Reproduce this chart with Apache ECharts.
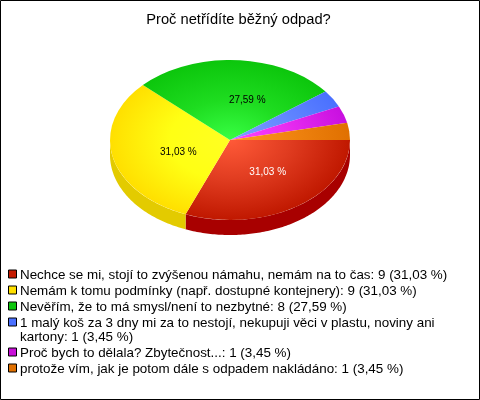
<!DOCTYPE html>
<html><head><meta charset="utf-8">
<style>html,body{margin:0;padding:0;background:#fff}#c{width:480px;height:400px}</style>
<script src="https://cdn.jsdelivr.net/npm/echarts@6/dist/echarts.min.js"></script>
</head><body><div id="c"></div>
<script>
const titleText = 'Proč netřídíte běžný odpad?';
const categories = [
  'Nechce se mi, stojí to zvýšenou námahu, nemám na to čas',
  'Nemám k tomu podmínky (např. dostupné kontejnery)',
  'Nevěřím, že to má smysl/není to nezbytné',
  '1 malý koš za 3 dny mi za to nestojí, nekupuji věci v plastu, noviny ani\nkartony',
  'Proč bych to dělala? Zbytečnost...',
  'protože vím, jak je potom dále s odpadem nakládáno'
];
const values = [9, 9, 8, 1, 1, 1];
const percents = ['31,03 %', '31,03 %', '27,59 %', '3,45 %', '3,45 %', '3,45 %'];
const inner = ['#ff5a38', '#ffff22', '#38ff44', '#7f9fff', '#ff44ff', '#ff9a20'];
const middle = ['#e03c20', '#ffff14', '#1edc20', '#6488ff', '#e82cf0', '#f08410'];
const outer = ['#c01800', '#ffdf00', '#0cc60c', '#4a70ff', '#c810e0', '#e07000'];
const wall = ['#a80000', '#e3cb00', '#0a9a0a', '#3050c0', '#9000a0', '#b05000'];
const legendFill = ['#c41a00', '#ffe000', '#0cc60c', '#4a70ff', '#c810d8', '#e07000'];
const labelColor = ['#ffffff', '#000000', '#000000'];
const labelNudge = [[-2, -1], [1, 4], [8, 0]];

const CX = 230, CY = 140, RX = 120, RY = 80, DEPTH = 15;
const total = values.reduce((a, b) => a + b, 0);
const spans = []; let acc = 0;
values.forEach(v => { const s = acc / total * 2 * Math.PI; acc += v; spans.push([s, acc / total * 2 * Math.PI]); });

function wallEl(i) {
  const a = spans[i][0], b = Math.min(spans[i][1], Math.PI);
  if (a >= Math.PI) return null;
  const top = [], bot = [];
  const n = Math.max(2, Math.ceil((b - a) * 60));
  for (let k = 0; k <= n; k++) {
    const t = a + (b - a) * k / n, x = CX + RX * Math.cos(t), y = CY + RY * Math.sin(t);
    top.push([x, y]); bot.unshift([x, y + DEPTH]);
  }
  return { type: 'polygon', z2: 1, shape: { points: top.concat(bot) }, style: { fill: wall[i] } };
}
function sliceEl(i) {
  return {
    type: 'sector', z2: 2, x: CX, y: CY, scaleY: RY / RX,
    shape: { cx: 0, cy: 0, r0: 0, r: RX, startAngle: spans[i][0], endAngle: spans[i][1], clockwise: true },
    style: { fill: { type: 'radial', x: 0, y: 0, r: RX, global: true,
      colorStops: [{ offset: 0, color: inner[i] }, { offset: 0.5, color: middle[i] }, { offset: 1, color: outer[i] }] } }
  };
}
function labelEl(i) {
  if (i > 2) return null;
  const m = (spans[i][0] + spans[i][1]) / 2;
  return { type: 'text', z2: 3,
    x: CX + 0.5 * RX * Math.cos(m) + 6 + labelNudge[i][0],
    y: CY + 0.5 * RY * Math.sin(m) + labelNudge[i][1],
    style: { text: percents[i], fill: labelColor[i], font: '10px "Liberation Sans"', align: 'center', verticalAlign: 'middle' } };
}

const legendEls = [];
let ly = 269.5;
categories.forEach((c, i) => {
  const lines = c.split('\n').length;
  legendEls.push({ type: 'rect', shape: { x: 8.5, y: ly + 0.5, width: 8, height: 8 }, style: { fill: legendFill[i], stroke: '#000', lineWidth: 1 } });
  legendEls.push({ type: 'text', x: 20, y: ly - 1.5, style: {
    text: c + ': ' + values[i] + ' (' + percents[i] + ')', fill: '#000', font: '13.4px "Liberation Sans"', lineHeight: 14, align: 'left', verticalAlign: 'top' } });
  ly += lines > 1 ? 30 : 16;
});

const chart = echarts.init(document.getElementById('c'), null, { renderer: 'canvas' });
chart.setOption({
  animation: false,
  backgroundColor: '#fff',
  title: { text: titleText, left: 233.5, top: 7.6, textAlign: 'center',
    textStyle: { fontFamily: 'Liberation Sans', fontSize: 14.7, fontWeight: 'normal', color: '#000' } },
  graphic: [{ type: 'rect', shape: { x: 0.5, y: 0.5, width: 479, height: 399 }, style: { fill: 'none', stroke: '#000', lineWidth: 1 } }].concat(legendEls),
  series: [{
    type: 'custom', coordinateSystem: 'none', silent: true, clip: false,
    data: values.map((v, i) => [i, v]),
    renderItem: (p, api) => {
      const i = api.value(0);
      return { type: 'group', children: [wallEl(i), sliceEl(i), labelEl(i)].filter(Boolean) };
    }
  }]
});
</script></body></html>
